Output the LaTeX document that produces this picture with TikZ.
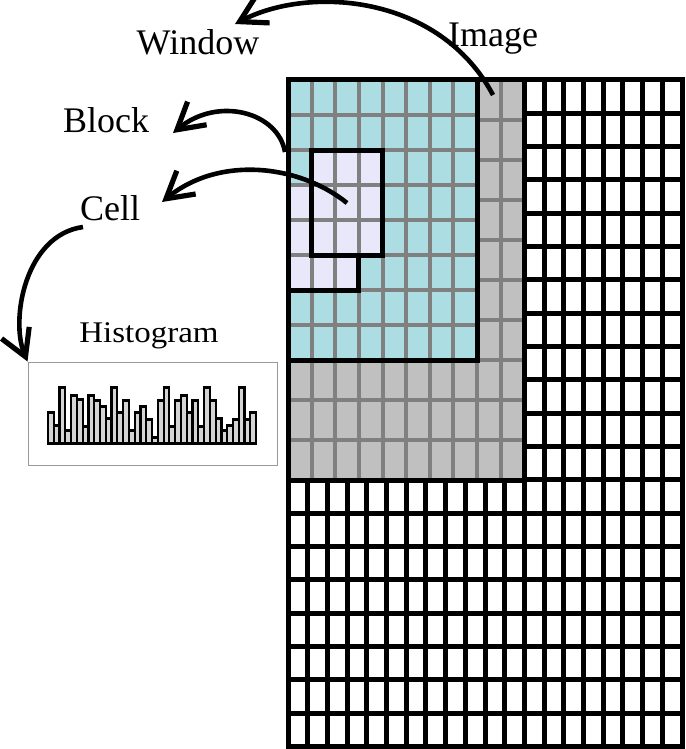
\documentclass[tikz,border=0pt]{standalone}
\usepackage{fontspec}
\setmainfont{Liberation Serif}
\usepackage{xcolor}
\usetikzlibrary{arrows.meta}

\definecolor{winblue}{RGB}{171,221,227}
\definecolor{blockviolet}{RGB}{232,232,250}
\definecolor{regiongray}{RGB}{192,192,192}
\definecolor{linegray}{RGB}{128,128,128}
\definecolor{bargray}{RGB}{212,212,212}

\begin{document}
\begin{tikzpicture}[x=0.5pt,y=-0.5pt,
    blackline/.style={line width=2.5pt, black},
    grayline/.style={line width=2pt, linegray},
    curvearrow/.style={line width=2.3pt, -{Straight Barb[length=13pt,width=15pt,line width=2.6pt]}},
    lbl/.style={font=\fontsize{18}{22}\selectfont, inner sep=0pt, anchor=base},
    bar/.style={draw=black, line width=1.1pt, fill=bargray}]
\useasboundingbox (0,0) rectangle (685,749);

% fine image grid (20 x 20 cells)
\foreach \i in {0,...,20}
  \draw[blackline] (288+\i*19.7,80) -- (288+\i*19.7,746.7);
\foreach \j in {0,...,20}
  \draw[blackline] (288,80+\j*33.33) -- (682,80+\j*33.33);

% gray region with its own grid
\fill[regiongray] (288,80) rectangle (524.4,480);
\foreach \k in {1,...,9} {
  \draw[grayline] (288+\k*23.64,80) -- (288+\k*23.64,480);
  \draw[grayline] (288,80+\k*40) -- (524.4,80+\k*40);
}

% window, block and cell
\fill[winblue] (288,80) rectangle (477.1,360);
\fill[blockviolet] (311.6,150) rectangle (382.6,255);
\fill[blockviolet] (288,185) rectangle (358.9,290);
\foreach \k in {1,...,7} {
  \draw[grayline] (288+\k*23.64,80) -- (288+\k*23.64,360);
  \draw[grayline] (288,80+\k*35) -- (477.1,80+\k*35);
}
\draw[blackline] (288,80) rectangle (524.4,480);
\draw[blackline] (288,80) rectangle (477.1,360);
\draw[blackline] (311.6,150) rectangle (382.6,255);
\draw[blackline] (288,290) -- (358.9,290) -- (358.9,255);
\draw[blackline] (288,80) rectangle (682,746.7);

% labels
\node[lbl] (window) at (198,55) {Window};
\node[lbl] (image) at (493,47) {Image};
\node[lbl] (block) at (106,133) {Block};
\node[lbl] (cell) at (110,220) {Cell};
\node[lbl, font=\fontsize{15}{18}\selectfont] (histlabel) at (149,342)
  {\scalebox{1.1}[1]{Histogram}};

% histogram
\node[draw=gray!80, line width=0.5pt, minimum width=124.5pt, minimum height=51.5pt,
  inner sep=0pt] (histbox) at (152.5,413.5) {};
\foreach \h [count=\i from 0] in {31,18,56,13,48,44,17,48,43,37,25,56,31,43,13,31,37,24,
    6,43,56,17,43,48,31,43,17,56,43,25,13,18,24,56,24,31}
  \draw[bar] (48+\i*5.78,443.5) rectangle ++(5.78,-\h);

% arrows
\coordinate (imgstart) at (493,95);
\coordinate (wintip) at (235,24);
\coordinate (blockstart) at (285,152);
\coordinate (blocktip) at (173,133);
\coordinate (cellstart) at (347,203);
\coordinate (celltip) at (162,202);
\coordinate (histstart) at (83,227);
\draw[curvearrow] (imgstart) .. controls (440,-5) and (310,-15) .. (wintip);
\draw[curvearrow] (blockstart) .. controls (278,112) and (218,96) .. (blocktip);
\draw[curvearrow] (cellstart) .. controls (300,165) and (220,155) .. (celltip);
\draw[curvearrow] (histstart) .. controls (25,235) and (10,320) .. (histbox.north west);
\end{tikzpicture}
\end{document}
